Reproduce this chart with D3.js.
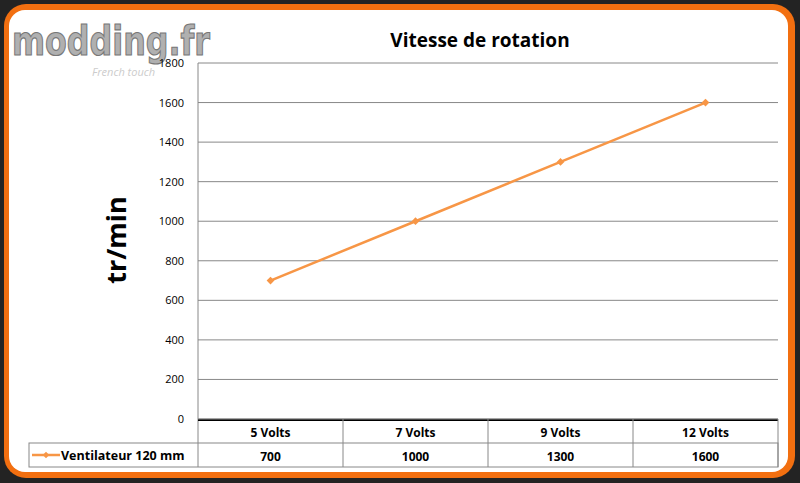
<!DOCTYPE html>
<html><head><meta charset="utf-8">
<script src="https://cdn.jsdelivr.net/npm/d3@7"></script>
<style>body{margin:0;background:#222}</style></head>
<body><svg id="c" width="800" height="483"></svg>
<script>
const categories = ["5 Volts","7 Volts","9 Volts","12 Volts"];
const values = [700,1000,1300,1600];
const seriesName = "Ventilateur 120 mm";
const yTicks = [0,200,400,600,800,1000,1200,1400,1600,1800];
const color = "#F79646";
const font = "'Open Sans', 'Liberation Sans', sans-serif";

const svg = d3.select("#c");
svg.append("rect").attr("width",800).attr("height",483).attr("fill","#232323");
svg.append("rect").attr("x",4).attr("y",4).attr("width",791).attr("height",474).attr("rx",22).attr("fill","#F26F10");
svg.append("rect").attr("x",9).attr("y",10).attr("width",779).attr("height",462).attr("rx",16).attr("fill","#fff");

const x0 = 198, x1 = 778;
const x = d3.scaleBand().domain(categories).range([x0,x1]);
const y = d3.scaleLinear().domain([0,1800]).range([419,63]);

// logo (behind axis text)
svg.append("text").attr("x",12).attr("y",55).attr("font-family","'DejaVu Sans', sans-serif")
  .attr("font-weight","bold").attr("font-size",40).attr("textLength",198).attr("lengthAdjust","spacingAndGlyphs")
  .attr("fill","#b0b0b0").attr("stroke","#777").attr("stroke-width",1.2).text("modding.fr");
svg.append("text").attr("x",92).attr("y",76).attr("font-family",font).attr("font-style","italic")
  .attr("font-size",11).attr("fill","#ccc").text("French touch");

// grid
svg.append("g").selectAll("line").data(yTicks).join("line")
  .attr("x1",x0).attr("x2",x1).attr("y1",d=>y(d)).attr("y2",d=>y(d))
  .attr("stroke","#888").attr("stroke-width",1);
svg.append("line").attr("x1",x0).attr("x2",x0).attr("y1",y(1800)).attr("y2",467).attr("stroke","#888");
svg.append("line").attr("x1",x0).attr("x2",x1).attr("y1",y(0)+1).attr("y2",y(0)+1).attr("stroke","#000").attr("stroke-width",2);

svg.append("g").selectAll("text").data(yTicks).join("text")
  .attr("x",184).attr("y",d=>y(d)+4).attr("text-anchor","end")
  .attr("font-family",font).attr("font-size",11).text(d=>d);

svg.append("text").attr("x",480).attr("y",47).attr("text-anchor","middle")
  .attr("font-family",font).attr("font-weight","bold").attr("font-size",19).text("Vitesse de rotation");
svg.append("text").attr("transform","translate(126,240) rotate(-90)").attr("text-anchor","middle")
  .attr("font-family",font).attr("font-weight","bold").attr("font-size",27).text("tr/min");

const tb = svg.append("g");
tb.append("rect").attr("x",29).attr("y",443).attr("width",x1-29).attr("height",24).attr("fill","none").attr("stroke","#888");
tb.append("line").attr("x1",x0).attr("x2",x1).attr("y1",419).attr("y2",419).attr("stroke","#888");
tb.append("line").attr("x1",x1).attr("x2",x1).attr("y1",419).attr("y2",467).attr("stroke","#888");
tb.selectAll(".v").data(categories.slice(1)).join("line")
  .attr("x1",d=>x(d)).attr("x2",d=>x(d)).attr("y1",419).attr("y2",467).attr("stroke","#888");
tb.selectAll(".c").data(categories).join("text")
  .attr("x",d=>x(d)+x.bandwidth()/2).attr("y",437).attr("text-anchor","middle")
  .attr("font-family",font).attr("font-weight","bold").attr("font-size",12).text(d=>d);
tb.selectAll(".d").data(values).join("text")
  .attr("x",(d,i)=>x(categories[i])+x.bandwidth()/2).attr("y",461).attr("text-anchor","middle")
  .attr("font-family",font).attr("font-weight","bold").attr("font-size",12).text(d=>d);
tb.append("line").attr("x1",32).attr("x2",60).attr("y1",455).attr("y2",455).attr("stroke",color).attr("stroke-width",2.5);
tb.append("path").attr("d",d3.symbol(d3.symbolSquare,22)()).attr("transform","translate(46,455) rotate(45)").attr("fill",color);
tb.append("text").attr("x",61).attr("y",460).attr("font-family",font).attr("font-weight","bold").attr("font-size",12.5).text(seriesName);

const cx = (d,i)=>x(categories[i])+x.bandwidth()/2;
svg.append("path").datum(values).attr("fill","none").attr("stroke",color).attr("stroke-width",2.5)
  .attr("d",d3.line().x(cx).y(d=>y(d)));
svg.selectAll(".pt").data(values).join("path")
  .attr("d",d3.symbol(d3.symbolSquare,30)()).attr("fill",color)
  .attr("transform",(d,i)=>`translate(${cx(d,i)},${y(d)}) rotate(45)`);
</script></body></html>
